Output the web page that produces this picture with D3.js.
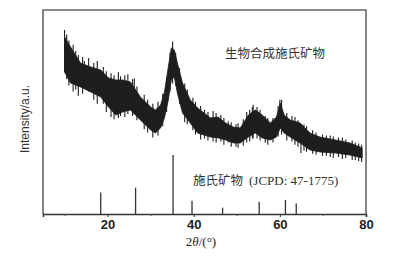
<!DOCTYPE html>
<html><head><meta charset="utf-8">
<script src="https://cdn.jsdelivr.net/npm/d3@7"></script>
<style>body{margin:0;background:#fff}svg{display:block}</style>
</head><body>
<script>
// 2θ positions of the measured band (degrees)
const twoTheta = [10.0,11.4,13.7,16.1,18.4,20.2,21.9,23.5,25.3,27.6,30.0,31.1,32.3,33.2,34.1,34.8,35.5,36.2,37.4,39.2,40.9,43.9,45.7,47.4,49.2,50.8,52.7,54.3,55.9,57.8,59.2,60.1,61.0,62.4,64.7,67.0,69.3,72.9,76.3,79.1];
// upper envelope of noisy measured intensity (a.u.)
const upperI = [86.8,81.9,74.0,72.1,70.6,66.7,65.7,65.7,64.7,57.4,52.5,51.0,53.4,59.8,72.1,81.4,80.4,74.0,64.2,55.9,52.0,47.1,47.5,44.6,42.6,42.2,48.5,51.0,48.5,44.6,47.5,54.4,48.5,46.1,44.6,39.7,37.7,36.3,34.8,32.4];
// lower envelope
const lowerI = [69.6,64.2,62.3,59.8,57.4,52.5,48.5,50.0,51.0,46.1,41.2,39.7,42.2,47.1,55.9,65.7,67.2,59.3,49.5,44.6,39.7,37.7,37.3,36.3,34.8,34.8,37.7,39.7,37.3,36.3,37.7,42.2,39.7,37.7,34.8,31.4,30.4,29.9,28.9,27.5];
// noise spikes: [2θ, low, high]
const spikes = [[10.0,69.6,90.2],[10.5,66,88],[11.0,63,85],[12.0,60,83],[12.6,61,80],[13.2,58,78],[14.2,59,77],[14.6,62,75],[15.6,60,76.5],[16.8,56,74],[17.6,54,75],[19.0,54,72],[19.7,50,70],[20.8,47.5,69],[21.5,46.5,68],[22.5,47,69.5],[23.0,48,67.5],[24.0,47.5,68],[24.7,49,68.5],[25.8,48,66],[26.2,49,66.5],[26.8,46,62.5],[28.5,41.5,58.5],[29.3,40,56],[30.5,37.5,54],[31.7,38.5,55],[32.8,43,59],[33.7,50,67],[34.5,60,79],[35.1,64,84.5],[35.8,63,79],[36.7,54,71.5],[37.9,45,64],[38.5,44,61],[39.8,41,57],[40.4,39,55],[41.6,36.5,53],[42.5,37,51],[43.3,36,50],[44.5,35.5,50.5],[45.2,35,49.5],[46.3,35.5,48.5],[47.0,34,47],[48.0,35,45.5],[48.7,33,45],[49.8,33,44],[50.3,32.5,44.5],[51.5,33.5,46.5],[52.3,35,50],[53.0,35.5,51],[53.6,37,52.5],[53.8,37,53.5],[54.7,37,52.5],[55.4,36,51],[56.6,35,48],[57.2,34,47],[58.4,35,47],[59.6,38,53],[60.0,42,56],[60.4,39,56],[61.6,36,49.5],[62.8,35.5,48],[63.5,34,47.5],[64.2,33,46],[64.9,29.9,44],[65.6,31,44],[66.2,30.5,43],[67.6,29.5,41],[68.4,29,40],[69.9,28.5,39],[70.8,28.5,38.5],[71.7,28,38.5],[72.4,27.5,38],[73.6,28,37.5],[74.5,27,37.5],[75.3,27.5,36.5],[76.8,26.5,36],[77.5,26.5,35],[78.3,26,34.5],[79.0,25.5,34]];
// reference pattern sticks (JCPD 47-1775)
const refPos = [18.4,26.5,35.2,39.6,46.7,55.2,61.3,63.8];
const refI = [10.6,12.9,28.9,6.5,3.1,6.0,6.9,5.2];
const majorTicks = [20,40,60,80];
const minorTicks = [10,30,50,70];

const W=397,H=256;
const m={l:43,r:31,t:10,b:42};
const svg=d3.select("body").append("svg").attr("width",W).attr("height",H);
const x=d3.scaleLinear().domain([5,80]).range([m.l,W-m.r]);
const y=d3.scaleLinear().domain([0,100]).range([H-m.b,m.t]);

// frame
svg.append("path").attr("d",`M${x(5)},${y(0)}V${y(100)}H${x(80)}V${y(0)}`)
  .attr("fill","none").attr("stroke","#666").attr("stroke-width",1.6);

// measured band
const data=twoTheta.map((t,i)=>({t,u:upperI[i],l:lowerI[i]}));
const area=d3.area().x(d=>x(d.t)).y0(d=>y(d.l)).y1(d=>y(d.u)).curve(d3.curveLinear);
svg.append("path").datum(data).attr("d",area).attr("fill","#1e1e1e").attr("stroke","#1e1e1e").attr("stroke-width",0.8);
svg.selectAll(".sp").data(spikes).join("line")
  .attr("x1",d=>x(d[0])).attr("x2",d=>x(d[0])).attr("y1",d=>y(d[1])).attr("y2",d=>y(d[2]))
  .attr("stroke","#1e1e1e").attr("stroke-width",1.1);

// reference sticks
svg.selectAll(".st").data(refPos).join("line")
  .attr("x1",d=>x(d)).attr("x2",d=>x(d)).attr("y1",y(0)).attr("y2",(d,i)=>y(refI[i]))
  .attr("stroke","#333").attr("stroke-width",1.3);

// x axis
const ax=svg.append("g").attr("transform",`translate(0,${y(0)})`)
  .call(d3.axisBottom(x).tickValues(majorTicks).tickSize(3).tickFormat(d3.format("d")));
ax.select(".domain").attr("stroke","#333").attr("stroke-width",1.6);
ax.selectAll(".tick line").attr("stroke","#333");
ax.selectAll("text").attr("font-family","Liberation Sans, Arial").attr("font-weight","bold")
  .attr("font-size",13).attr("fill","#222");
svg.append("g").attr("transform",`translate(0,${y(0)})`)
  .call(d3.axisBottom(x).tickValues(minorTicks).tickSize(2).tickFormat(""))
  .call(g=>g.select(".domain").remove())
  .selectAll("line").attr("stroke","#555");

// axis titles
const xl=svg.append("text").attr("x",201).attr("y",246).attr("text-anchor","middle")
  .attr("font-family","Liberation Serif, Times New Roman").attr("font-size",13).attr("fill","#222");
xl.append("tspan").text("2");
xl.append("tspan").attr("font-style","italic").text("θ");
xl.append("tspan").text("/(°)");
svg.append("text").attr("transform",`translate(29,${119}) rotate(-90)`).attr("text-anchor","middle")
  .attr("font-family","Liberation Sans, Arial").attr("font-size",12).attr("fill","#333").text("Intensity/a.u.");

// annotations
svg.append("text").attr("x",275).attr("y",58).attr("text-anchor","middle")
  .attr("font-family","Noto Sans CJK SC").attr("font-size",12.5).attr("fill","#333").text("生物合成施氏矿物");
const t2=svg.append("text").attr("x",193).attr("y",185).attr("fill","#333").attr("font-size",12.5);
t2.append("tspan").attr("font-family","Noto Sans CJK SC").text("施氏矿物");
t2.append("tspan").attr("font-family","Liberation Serif, Times New Roman").attr("font-size",13).attr("dx",6).text("(JCPD: 47-1775)");
</script>
</body></html>
